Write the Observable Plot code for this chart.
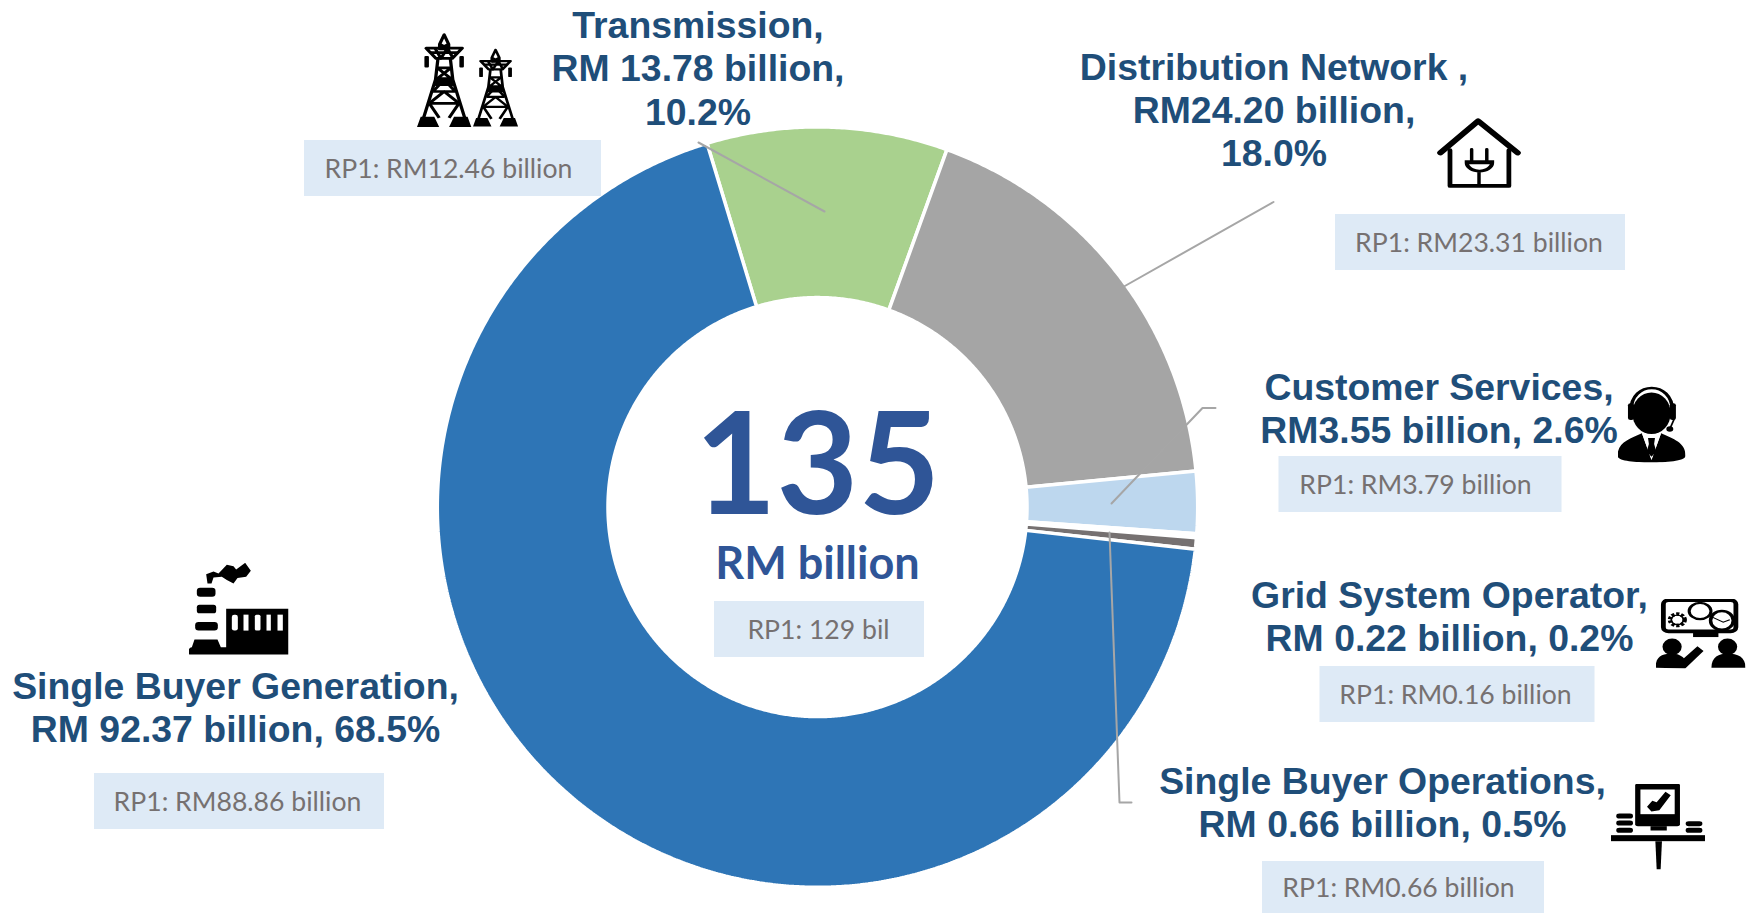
<!DOCTYPE html>
<html>
<head>
<meta charset="utf-8">
<script src="https://cdn.jsdelivr.net/npm/d3@7"></script>
<script src="https://cdn.jsdelivr.net/npm/@observablehq/plot@0.6"></script>
<style>html,body{margin:0;padding:0;background:#fff}svg{display:block}</style>
</head>
<body>
<div id="chart"></div>
<script>
// ---- data ----
const categories = ["Transmission","Distribution Network","Customer Services","Grid System Operator","Single Buyer Operations","Single Buyer Generation"];
const values = [13.78,24.20,3.55,0.22,0.66,92.37];
const colors = ["#A9D18E","#A5A5A5","#BDD7EE","#FFFFFF","#767171","#2E75B6"];
const labels = [
  "Transmission,\nRM 13.78 billion,\n10.2%",
  "Distribution Network ,\nRM24.20 billion,\n18.0%",
  "Customer Services,\nRM3.55 billion, 2.6%",
  "Grid System Operator,\nRM 0.22 billion, 0.2%",
  "Single Buyer Operations,\nRM 0.66 billion, 0.5%",
  "Single Buyer Generation,\nRM 92.37 billion, 68.5%"
];
const rp1Labels = ["RP1: RM12.46 billion","RP1: RM23.31 billion","RP1: RM3.79 billion","RP1: RM0.16 billion","RP1: RM0.66 billion","RP1: RM88.86 billion","RP1: 129 bil"];
const totalValue = "135";
const totalUnit = "RM billion";

// ---- layout ----
const W = 1746, H = 913;
const cx = 817, cy = 506.6, rOuter = 380.2, rInner = 209.5, startDeg = -16.9;
const labelX = [697.5,1273.5,1438.5,1449,1382,235];
const labelY = [67,108.5,407,615,801.5,706];
const boxes = [[304,601,140,196],[1335,1625,214,270],[1278.5,1561.5,456,512],[1319.5,1594.5,666,722],[1262,1544,861,913],[94,384,773,829],[714,924,601,657]];
const rp1Dx = [-4.5,-1.5,-5,-2,-5,-2,-1];
const leaders = [
  [[698,142],[824,211]],
  [[1273,201.5],[1123.5,286]],
  [[1215,407.5],[1202,407.5],[1111,503]],
  [[1109,532],[1119,802],[1131,802]]
];

// ---- slices: polygons walked along the rings, drawn by Plot.line through the x/y scales ----
const total = d3.sum(values);
let acc = 0;
const slicePts = [];
categories.forEach((c,i)=>{
  const a0 = startDeg + acc/total*360; acc += values[i];
  const a1 = startDeg + acc/total*360;
  const n = Math.max(2, Math.ceil((a1-a0)/0.4));
  const arc = d3.range(n+1).map(k=>a0+(a1-a0)*k/n);
  const pt = (r,a)=>({category:c, px:cx+r*Math.sin(a*Math.PI/180), py:cy-r*Math.cos(a*Math.PI/180)});
  arc.forEach(a=>slicePts.push(pt(rOuter,a)));
  arc.slice().reverse().forEach(a=>slicePts.push(pt(rInner,a)));
});

// ---- icons ----
const svgUri = (vb,w,h,body)=>"data:image/svg+xml,"+encodeURIComponent(
 `<svg xmlns="http://www.w3.org/2000/svg" width="${w*2}" height="${h*2}" viewBox="${vb}" preserveAspectRatio="none">${body}</svg>`);
const pylon = `<g fill="none" stroke="#000" stroke-width="8" stroke-linejoin="round">
<path d="M0 2L-11 30V44H11V30Z" fill="#fff"/><path d="M-11 30L11 44M11 30L-11 44"/>
<path d="M-44 42H44L20 72H-20Z"/><path d="M-22 42L-8 72L8 42L22 72M-34 55H34"/>
<path d="M-15 72L-21 135L-50 248M15 72L21 135L50 248"/>
<path d="M-17 100H17M-20 132H20M-27 170H27M-36 205H36M-17 100L17 132M17 100L-17 132M-27 170L0 135L27 170M-36 205L0 170L36 205M-36 205L-12 248M36 205L12 248"/>
<path d="M-20 135H20V150H-20Z" fill="#000"/></g>
<rect x="-48" y="65" width="11" height="34" rx="3"/><rect x="37" y="65" width="11" height="34" rx="3"/>
<path d="M-66 275L-57 245H-24L-12 275ZM66 275L57 245H24L12 275Z"/>`;
const icons = [
 {x:467.5,y:79.5,w:102,h:94,src:svgUri("335 100 248 278",102,94,
  `<g transform="translate(401 103)">${pylon}</g><g transform="translate(526 148) scale(.83)">${pylon}</g>`)},
 {x:1478.5,y:152.5,w:84,h:70,src:svgUri("860 265 194 207",84,70,
  `<g fill="none" stroke="#000" stroke-linecap="round" stroke-linejoin="round"><path d="M868 368L955 274L1046 368" stroke-width="15"/><path d="M890 360V466H1026V360" stroke-width="11"/>
  <path d="M940 358V392M975 358V392" stroke-width="8"/><path d="M957 425V466" stroke-width="8" stroke-linecap="butt"/></g>
  <path d="M924 390H992V398C992 414 976 426 958 426C940 426 924 414 924 398Z" fill="#000"/><path d="M934 402H982C978 412 968 418 958 418C948 418 938 412 934 402Z" fill="#fff"/>`)},
 {x:1651,y:423.5,w:68,h:77,src:svgUri("1272 75 156 230",68,77,
  `<ellipse cx="1350" cy="158" rx="44" ry="62"/><path d="M1303 150C1303 60 1398 60 1398 150" fill="none" stroke="#000" stroke-width="8"/>
  <rect x="1296" y="128" width="14" height="50" rx="6"/><rect x="1392" y="128" width="14" height="50" rx="6"/>
  <path d="M1402 175L1392 205" stroke="#000" stroke-width="4"/><circle cx="1392" cy="205" r="8"/>
  <path d="M1272 285C1272 245 1300 235 1328 218L1350 295L1372 218C1400 235 1428 245 1428 285C1428 302 1380 305 1350 305C1320 305 1272 302 1272 285Z"/>
  <path d="M1328 218L1350 298L1372 218L1350 232Z" fill="#fff"/><path d="M1342 232H1358L1356 250L1361 272L1350 288L1339 272L1344 250Z"/>`)},
 {x:1700,y:633,w:90,h:70,src:svgUri("1360 115 206 207",90,70,
  `<rect x="1378" y="120" width="166" height="92" rx="12" fill="none" stroke="#000" stroke-width="11"/>
  <rect x="1446" y="212" width="58" height="17"/>
  <circle cx="1410" cy="178" r="17" fill="none" stroke="#000" stroke-width="10" stroke-dasharray="7 4"/><circle cx="1410" cy="178" r="14" fill="none" stroke="#000" stroke-width="4"/>
  <ellipse cx="1462" cy="152" rx="25" ry="24" fill="#fff" stroke="#000" stroke-width="7"/>
  <ellipse cx="1512" cy="180" rx="26" ry="28" fill="#fff" stroke="#000" stroke-width="8"/><path d="M1490 170L1515 185L1530 178" fill="none" stroke="#000" stroke-width="3"/>
  <ellipse cx="1398" cy="258" rx="22" ry="25"/><path d="M1360 320C1360 285 1378 278 1398 278C1410 278 1420 285 1425 292L1456 256L1470 270L1428 322Z"/>
  <ellipse cx="1525" cy="258" rx="22" ry="25"/><path d="M1488 320C1488 288 1505 278 1525 278C1548 278 1566 288 1566 320Z"/>`)},
 {x:1657.5,y:826,w:94,h:86,src:svgUri("1258 670 214 258",94,86,
  `<rect x="1313" y="670" width="102" height="128" rx="6"/><rect x="1325" y="688" width="78" height="74" fill="#fff"/>
  <path d="M1340 740L1352 722L1362 726L1382 695L1394 705L1368 750L1350 754Z"/>
  <rect x="1348" y="798" width="37" height="13"/><rect x="1258" y="825" width="214" height="18"/>
  <path d="M1359 843H1374L1371 928H1362Z"/>
  <rect x="1270" y="760" width="38" height="15" rx="7"/><rect x="1270" y="781" width="38" height="15" rx="7"/><rect x="1270" y="803" width="38" height="15" rx="7"/>
  <rect x="1428" y="783" width="38" height="15" rx="7"/><rect x="1428" y="803" width="38" height="15" rx="7"/>`)},
 {x:238,y:608.5,w:100,h:93,src:svgUri("565 65 300 280",100,93,
  `<path d="M622 128L618 100L640 92L655 98L680 72L700 76L708 86L735 66L752 90L738 108L712 112L700 128L680 118L665 108L640 110L634 128Z"/>
  <rect x="590" y="141" width="56" height="27" rx="10"/><rect x="590" y="192" width="58" height="26" rx="8"/><rect x="585" y="244" width="68" height="26" rx="10"/>
  <path d="M583 297H652L662 320L678 320V204H865V342H570C560 342 562 322 575 320Z"/>
  <g fill="#fff"><rect x="695" y="222" width="18" height="48" rx="7"/><rect x="730" y="222" width="15" height="48"/><rect x="764" y="222" width="17" height="48" rx="5"/><rect x="799" y="222" width="13" height="48"/><rect x="832" y="222" width="16" height="48"/></g>`)}
];

// ---- chart ----
const chart = Plot.plot({
  width: W, height: H, margin: 0,
  x: {domain:[0,W], range:[0,W], axis:null},
  y: {domain:[0,H], range:[0,H], axis:null},
  color: {domain:categories, range:colors},
  style: {background:"#fff"},
  marks: [
    Plot.line(slicePts,{x:"px",y:"py",z:"category",fill:"category",stroke:"#fff",strokeWidth:3.5,curve:"linear-closed",strokeLinejoin:"miter"}),
    Plot.rect(boxes,{x1:d=>d[0],x2:d=>d[1],y1:d=>d[2],y2:d=>d[3],fill:"#DEEAF6"}),
    ...leaders.map(l=>Plot.line(l,{x:d=>d[0],y:d=>d[1],stroke:"#A6A6A6",strokeWidth:2,curve:"linear"})),
    Plot.text(labels,{x:(d,i)=>labelX[i],y:(d,i)=>labelY[i],text:d=>d,fontFamily:"Liberation Sans",fontWeight:"bold",fontSize:37.4,lineHeight:1.155,fill:"#1F4E79",textAnchor:"middle"}),
    Plot.text(rp1Labels,{x:(d,i)=>(boxes[i][0]+boxes[i][1])/2+rp1Dx[i],y:(d,i)=>(boxes[i][2]+boxes[i][3])/2+1,text:d=>d,fontFamily:"Lato",fontSize:26.6,fill:"#767171",textAnchor:"middle"}),
    Plot.text([totalValue],{x:[cx],y:[468],text:d=>d,fontFamily:"Lato",fontWeight:"bold",fontSize:141,fill:"#2F5597",textAnchor:"middle"}),
    Plot.text([totalUnit],{x:[cx],y:[564],text:d=>d,fontFamily:"Lato",fontWeight:"bold",fontSize:45,fill:"#2F5597",textAnchor:"middle"}),
    Plot.image(icons,{x:"x",y:"y",width:"w",height:"h",src:"src",preserveAspectRatio:"none"})
  ]
});
document.getElementById("chart").append(chart);
</script>
</body>
</html>
